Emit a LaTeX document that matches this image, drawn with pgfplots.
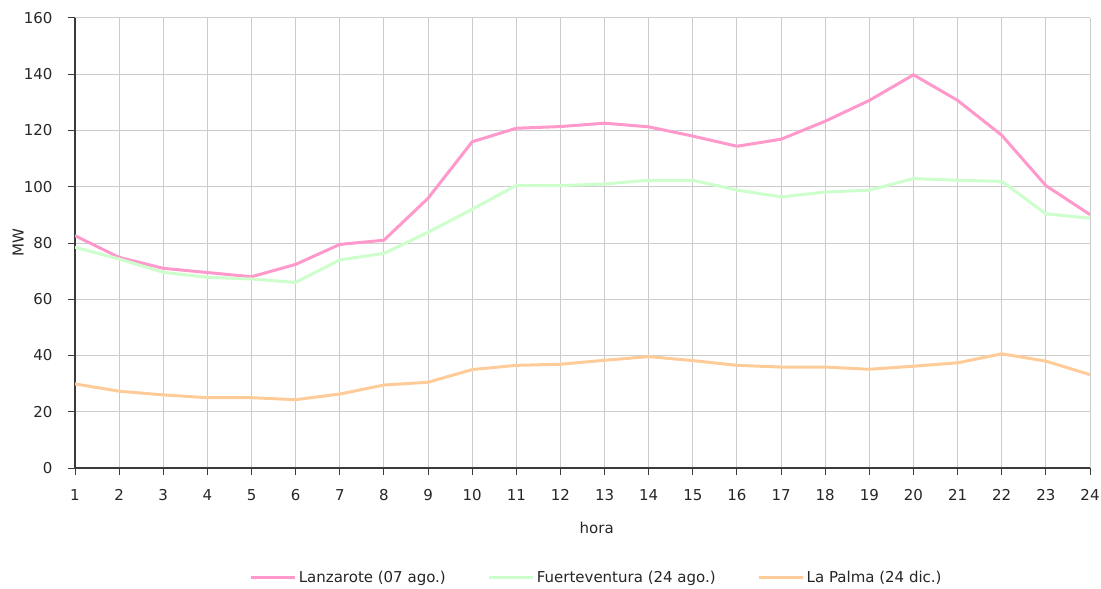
\documentclass[border=0pt]{standalone}
\usepackage{pgfplots}
\pgfplotsset{compat=1.18}
\usepackage{fontspec}
\setmainfont{DejaVu Sans}
\definecolor{lanz}{HTML}{FF99CC}
\definecolor{fuer}{HTML}{CCFFCC}
\definecolor{lpal}{HTML}{FFCC99}
\definecolor{gridc}{HTML}{CCCCCC}
\definecolor{axc}{HTML}{3A3A3A}
\begin{document}
\begin{tikzpicture}
\begin{axis}[
  scale only axis,
  width=1015bp, height=450bp,
  xmin=1, xmax=24, ymin=0, ymax=160,
  xtick={1,...,24}, ytick={0,20,...,160},
  axis x line*=bottom, axis y line*=left,
  x axis line style={-, color=axc, line width=1.3bp},
  y axis line style={-, color=axc, line width=1.3bp},
  tick align=outside, major tick length=7bp,
  tick style={color=axc, line width=1bp},
  grid=major,
  major grid style={color=gridc, line width=1bp},
  /pgf/number format/assume math mode=true,
  ticklabel style={font=\fontsize{15bp}{17bp}\selectfont, color=black!85},
  xticklabel style={yshift=-11bp},
  yticklabel shift=12bp,
  xlabel={hora}, ylabel={MW},
  every axis x label/.style={at={(axis description cs:0.514,-0.133)}, anchor=center,
    font=\fontsize{15bp}{17bp}\selectfont, color=black!85},
  every axis y label/.style={at={(axis description cs:-0.056,0.5)}, anchor=center, rotate=90,
    font=\fontsize{15bp}{17bp}\selectfont, color=black!85},
  legend columns=3,
  legend style={draw=none, at={(0.514,-0.244)}, anchor=center,
    font=\fontsize{15bp}{17bp}\selectfont, text=black!85,
    /tikz/every even column/.append style={column sep=40bp}},
  legend image code/.code={\draw[#1] (0bp,0bp) -- (44bp,0bp);},
]
\addplot[lanz, line width=3bp] coordinates {
(1,82.6)(2,74.9)(3,71)(4,69.5)(5,68)(6,72.4)(7,79.5)(8,81)(9,95.9)(10,116)(11,120.8)(12,121.4)(13,122.6)(14,121.3)(15,118)(16,114.4)(17,116.9)(18,123.3)(19,130.7)(20,139.8)(21,130.7)(22,118.3)(23,100.4)(24,90.1)};
\addlegendentry{Lanzarote (07 ago.)}
\addplot[fuer, line width=3bp] coordinates {
(1,78.5)(2,74.3)(3,69.6)(4,67.8)(5,67.2)(6,66)(7,74)(8,76.3)(9,83.8)(10,92)(11,100.5)(12,100.4)(13,101)(14,102.3)(15,102.3)(16,98.8)(17,96.4)(18,98.1)(19,98.8)(20,102.9)(21,102.3)(22,101.9)(23,90.4)(24,88.8)};
\addlegendentry{Fuerteventura (24 ago.)}
\addplot[lpal, line width=3bp] coordinates {
(1,29.9)(2,27.3)(3,26)(4,25)(5,25)(6,24.3)(7,26.3)(8,29.5)(9,30.5)(10,35)(11,36.5)(12,36.9)(13,38.3)(14,39.6)(15,38.2)(16,36.5)(17,35.9)(18,35.9)(19,35.1)(20,36.2)(21,37.4)(22,40.6)(23,38)(24,33.2)};
\addlegendentry{La Palma (24 dic.)}
\end{axis}
\pgfresetboundingbox
\path ([shift={(-75bp,-120bp)}]current axis.south west) rectangle ([shift={(11bp,18bp)}]current axis.north east);
\end{tikzpicture}
\end{document}
